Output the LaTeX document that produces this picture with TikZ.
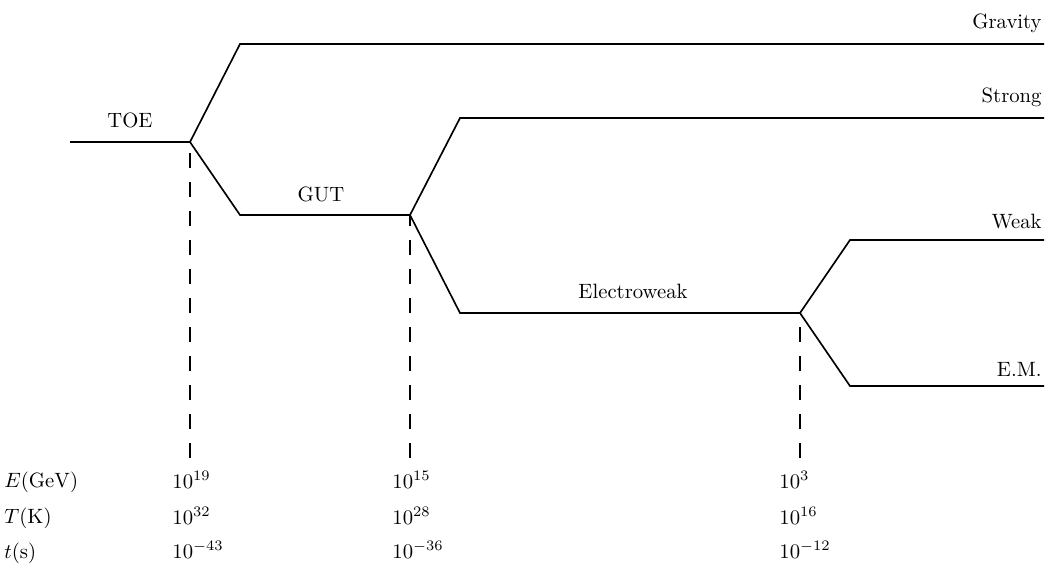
\documentclass[tikz,border=0pt]{standalone}
\begin{document}
\begin{tikzpicture}[x=0.483pt,y=-0.483pt,
  force/.style={line width=0.8pt},
  guide/.style={line width=0.8pt,dash pattern=on 7.2pt off 6.8pt},
  lbl/.style={inner sep=0pt,anchor=base},
  rlbl/.style={inner sep=0pt,anchor=base east},
  val/.style={inner sep=0pt,anchor=base west},
  axl/.style={inner sep=0pt,anchor=base west}]
\useasboundingbox (0,0) rectangle (1051,564);
% junctions and corners
\coordinate (start) at (70,142);
\coordinate (j1) at (190,142);
\coordinate (g1) at (240,44);
\coordinate (g2) at (1044,44);
\coordinate (u1) at (240,215);
\coordinate (j2) at (410,215);
\coordinate (s1) at (460,118);
\coordinate (s2) at (1044,118);
\coordinate (e1) at (460,313);
\coordinate (j3) at (800,313);
\coordinate (w1) at (850,240);
\coordinate (w2) at (1044,240);
\coordinate (m1) at (850,386);
\coordinate (m2) at (1044,386);
\coordinate (b1) at (190,458);
\coordinate (b2) at (410,458);
\coordinate (b3) at (800,458);
% force lines
\draw[force] (start) -- (j1) -- (g1) -- (g2);
\draw[force] (j1) -- (u1) -- (j2) -- (s1) -- (s2);
\draw[force] (j2) -- (e1) -- (j3) -- (w1) -- (w2);
\draw[force] (j3) -- (m1) -- (m2);
% dashed guides
\draw[guide] (b1) -- (j1);
\draw[guide] (b2) -- (j2);
\draw[guide] (b3) -- (j3);
% labels
\node[lbl] (toe) at (130,127) {TOE};
\node[lbl] (gut) at (321,201) {GUT};
\node[lbl] (ew) at (633,298) {Electroweak};
\node[rlbl] (grav) at (1042,28) {Gravity};
\node[rlbl] (strong) at (1042,102) {Strong};
\node[rlbl] (weak) at (1042,228) {Weak};
\node[rlbl] (em) at (1042,376) {E.M.};
% axis labels
\node[axl] (E) at (4,487) {$E(\mathrm{GeV})$};
\node[axl] (T) at (4,523) {$T(\mathrm{K})$};
\node[axl] (t) at (4,558) {$t(\mathrm{s})$};
% values
\node[val] (e19) at (172,488) {$10^{19}$};
\node[val] (t32) at (172,524) {$10^{32}$};
\node[val] (s43) at (172,558) {$10^{-43}$};
\node[val] (e15) at (392,488) {$10^{15}$};
\node[val] (t28) at (392,524) {$10^{28}$};
\node[val] (s36) at (392,558) {$10^{-36}$};
\node[val] (e3) at (779,488) {$10^{3}$};
\node[val] (t16) at (779,524) {$10^{16}$};
\node[val] (s12) at (779,558) {$10^{-12}$};
\end{tikzpicture}
\end{document}
